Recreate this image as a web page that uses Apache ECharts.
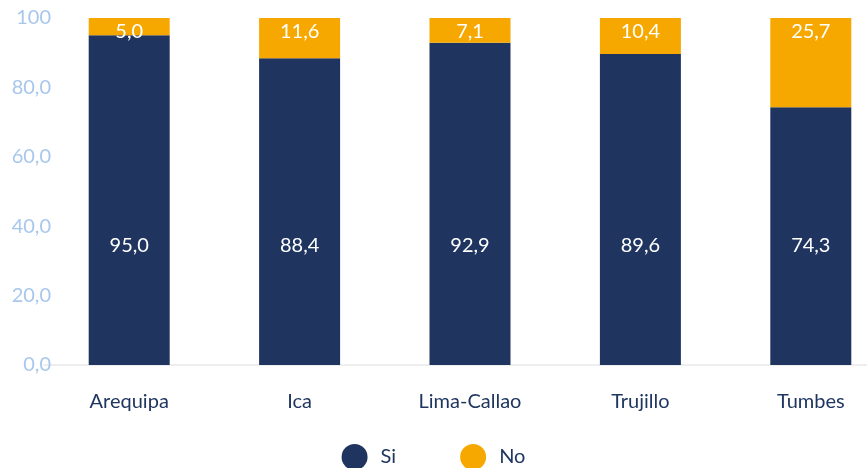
<!DOCTYPE html>
<html>
<head>
<meta charset="utf-8">
<script src="https://cdn.jsdelivr.net/npm/echarts@6/dist/echarts.min.js"></script>
<style>
html,body{margin:0;padding:0;background:#fff;}
#chart{width:867px;height:468px;}
</style>
</head>
<body>
<div id="chart"></div>
<script>
const categories = ['Arequipa', 'Ica', 'Lima-Callao', 'Trujillo', 'Tumbes'];
const siValues = [95.0, 88.4, 92.9, 89.6, 74.3];
const noValues = [5.0, 11.6, 7.1, 10.4, 25.7];
const yTicks = [0, 20, 40, 60, 80, 100];

const FONT = 'Lato';
const fmt = v => v.toFixed(1).replace('.', ',');

const chart = echarts.init(document.getElementById('chart'), null, {renderer: 'canvas'});
chart.setOption({
  animation: false,
  textStyle: {fontFamily: FONT},
  grid: {left: 44, width: 852, top: 18, bottom: 103, containLabel: false, outerBoundsMode: 'none'},
  legend: {
    top: 439,
    left: 'center',
    icon: 'circle',
    itemWidth: 26,
    itemHeight: 26,
    itemGap: 64,
    textStyle: {color: '#1f3660', fontSize: 20, fontFamily: FONT, padding: [0, 0, 0, 8]},
    data: ['Si', 'No']
  },
  xAxis: {
    type: 'category',
    data: categories,
    axisLine: {show: true, lineStyle: {color: '#eeeeee', width: 2}},
    axisTick: {show: false},
    axisLabel: {color: '#1f3660', fontSize: 20, margin: 27, fontFamily: FONT}
  },
  yAxis: {
    type: 'value',
    min: yTicks[0],
    max: yTicks[yTicks.length - 1],
    interval: 20,
    offset: -25,
    splitLine: {show: false},
    axisLine: {show: false},
    axisTick: {show: false},
    axisLabel: {
      color: '#a8c7ec', fontSize: 20, margin: 18, fontFamily: FONT,
      formatter: v => (v === 100 ? '100' : fmt(v))
    }
  },
  series: [
    {
      name: 'Si',
      type: 'bar',
      stack: 'total',
      barWidth: 81,
      data: siValues,
      itemStyle: {color: '#1f3560'},
      label: {
        show: true, position: 'insideBottom', distance: 109,
        color: '#ffffff', fontSize: 20, fontFamily: FONT,
        formatter: p => fmt(p.value)
      }
    },
    {
      name: 'No',
      type: 'bar',
      stack: 'total',
      barWidth: 81,
      data: noValues,
      itemStyle: {color: '#f6a800'},
      label: {
        show: true, position: 'insideTop', distance: 4,
        color: '#ffffff', fontSize: 20, fontFamily: FONT,
        formatter: p => fmt(p.value)
      }
    }
  ]
});
</script>
</body>
</html>
